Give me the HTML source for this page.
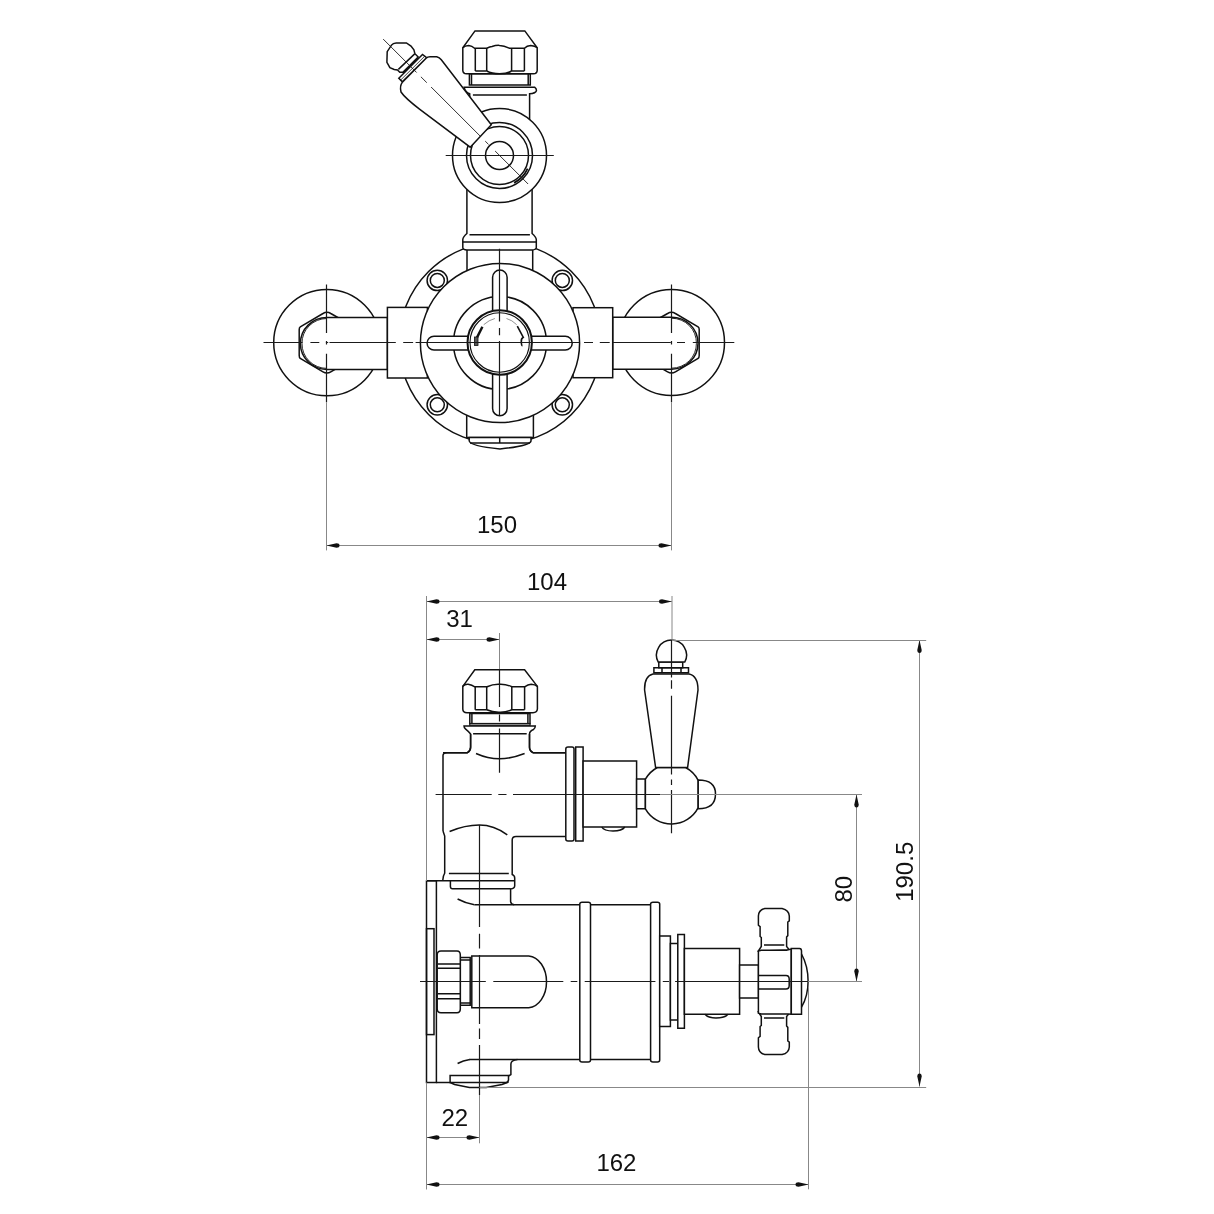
<!DOCTYPE html>
<html><head><meta charset="utf-8"><style>
html,body{margin:0;padding:0;background:#fff;}
svg{display:block;will-change:transform;}
text{font-family:"Liberation Sans",sans-serif;font-size:24px;fill:#111;}
.o{fill:#fff;stroke:#111;stroke-width:1.5;}
.n{fill:none;stroke:#111;stroke-width:1.5;}
.c{fill:none;stroke:#1a1a1a;stroke-width:1.2;}
.cd{fill:none;stroke:#222;stroke-width:1;stroke-dasharray:22 5 4 5;}
.d{fill:none;stroke:#888;stroke-width:1;}
.a{fill:#111;stroke:none;}
</style></head><body>
<svg width="1214" height="1214" viewBox="0 0 1214 1214">
<rect width="1214" height="1214" fill="#fff"/>
<!-- ================= TOP VIEW ================= -->
<g id="top">
  <!-- flange -->
  <circle class="o" cx="500" cy="343" r="101"/>
  <!-- top bottom outlet -->
  <path class="o" d="M466.7 400 V437.4 H533.4 V400 Z"/>
  <path class="o" d="M469.2 437.4 V441 Q470 446 500 449 Q530 446 531 441 V437.4 Z"/>
  <line class="n" x1="499.7" y1="437.4" x2="499.7" y2="443"/>
  <line class="n" x1="470" y1="443" x2="530" y2="443"/>
  <!-- upper pipe from pivot to body -->
  <path class="o" d="M467 248.7 V300 H532.7 V248.7 Z"/>
  <!-- bolt holes -->
  <g>
    <circle class="o" cx="437.3" cy="280.4" r="10.2"/><circle class="n" cx="437.3" cy="280.4" r="7"/>
    <circle class="o" cx="562.3" cy="280.4" r="10.2"/><circle class="n" cx="562.3" cy="280.4" r="7"/>
    <circle class="o" cx="437.3" cy="404.8" r="10.2"/><circle class="n" cx="437.3" cy="404.8" r="7"/>
    <circle class="o" cx="562.3" cy="404.8" r="10.2"/><circle class="n" cx="562.3" cy="404.8" r="7"/>
  </g>
  <!-- inlet escutcheons -->
  <circle class="o" cx="326.9" cy="342.6" r="53.2"/>
  <circle class="o" cx="671.5" cy="342.5" r="53"/>
  <!-- left hex + pipe -->
  <path class="o" d="M323 313.5 Q326.9 311 330.8 313.5 L351 325 V360 L330.8 371.8 Q326.9 374.2 323 371.8 L300.3 358.5 Q299.2 357.5 299.2 355.5 V329.5 Q299.2 327.5 300.3 326.8 Z"/>
  <path class="o" d="M387.4 317.5 H326.9 A26.5 26 0 0 0 300.4 343.5 A26.5 26 0 0 0 326.9 369.4 H387.4 Z"/>
  <path class="n" d="M326.9 318.5 A25 24.5 0 0 0 302 343.5 A25 24.5 0 0 0 326.9 368.4" style="stroke-width:0.9"/>
  <!-- right hex + pipe -->
  <path class="o" d="M675.4 313.5 Q671.5 311 667.6 313.5 L647.3 325 V360 L667.6 371.8 Q671.5 374.2 675.4 371.8 L698.1 358.5 Q699.2 357.5 699.2 355.5 V329.5 Q699.2 327.5 698.1 326.8 Z"/>
  <path class="o" d="M612.7 317.2 H671.5 A26.5 26 0 0 1 698 343.2 A26.5 26 0 0 1 671.5 369.2 H612.7 Z"/>
  <path class="n" d="M671.5 318.2 A25 24.5 0 0 1 696.4 343.2 A25 24.5 0 0 1 671.5 368.2" style="stroke-width:0.9"/>
  <!-- union rects -->
  <rect class="o" x="387.4" y="307.4" width="40" height="70.6"/>
  <rect class="o" x="573" y="307.7" width="39.7" height="70"/>
  <!-- body circle -->
  <circle class="o" cx="500" cy="343" r="79.6"/>
  <circle class="n" cx="500" cy="343" r="46.5"/>
  <!-- cross arms -->
  <path class="o" d="M492.6 340 V277.3 A7.25 7.25 0 0 1 507.1 277.3 V340 Z"/>
  <path class="o" d="M492.6 346 V408.5 A7.25 7.25 0 0 0 507.1 408.5 V346 Z"/>
  <path class="o" d="M497 336.3 H434 A6.9 6.9 0 0 0 434 350.1 H497 Z"/>
  <path class="o" d="M503 336.3 H565.3 A6.9 6.9 0 0 1 565.3 350.1 H503 Z"/>
  <!-- spindle -->
  <circle class="o" cx="499.7" cy="342.5" r="32.2" style="stroke-width:2"/>
  <circle class="n" cx="499.7" cy="342.5" r="29.7" style="stroke-width:1.1"/>
  <path class="n" d="M482.4 326.7 L475.8 339.9" style="stroke-width:2.4"/>
  <rect x="474.4" y="337" width="3.6" height="8.5" fill="#555" stroke="#111" stroke-width="0.8"/>
  <path class="n" d="M517.3 326.1 L523.3 337.3 Q521 338.5 521.3 342 Q521.5 345.8 522.5 345.8" style="stroke-width:1.6"/>
  <path class="n" d="M483.7 324.7 Q489 320 494.9 318.5 M506.5 318.5 Q512 320 516.7 324.7" style="stroke-width:0.8;stroke:#777"/>

  <!-- upper body above pivot -->
  <path class="o" d="M466.9 170 V233.5 Q463 237 462.8 239.5 V247.5 Q463 249.9 466.9 249.9 H532.1 Q536 249.9 536.3 247.5 V239.5 Q536 237 532.1 233.5 V170 Z"/>
  <line class="n" x1="462.8" y1="242.1" x2="536.3" y2="242.1"/>
  <line class="n" x1="469.5" y1="234.7" x2="529.9" y2="234.7"/>
  <path class="o" d="M469.7 125 V93.8 Q465 92 464.2 87.3 H534.8 Q536.6 88.5 536.4 90.7 Q535.8 93.2 529.6 93.8 V125 Z"/>
  <!-- pivot circles -->
  <circle class="o" cx="499.5" cy="155.5" r="47"/>
  <circle class="n" cx="499.5" cy="155.5" r="33"/>
  <circle class="n" cx="499.5" cy="155.5" r="29"/>
  <circle class="n" cx="499.5" cy="155.5" r="14"/>
  <path class="n" d="M527.6 168.6 A31 31 0 0 1 514.1 182.9" style="stroke-width:1.8"/>

  <!-- nut top -->
  <line class="n" x1="472.9" y1="94.9" x2="526.9" y2="94.9"/>
  <path class="o" d="M469.4 73.8 V85 H530.3 V73.8 Z"/>
  <path class="n" d="M471.5 73.8 V85 M528.2 73.8 V85"/>
  <path class="o" d="M475 30.9 H524.8 L537.2 47.8 V70.5 Q537 73.6 533.5 73.8 H466.5 Q463 73.6 462.8 70.5 V47.8 Z"/>
  <path class="n" d="M462.8 47.8 Q465 45.4 468.7 45.4 Q472 45.8 474.6 48.2 H486.7 Q490 46.8 492 46.5 Q496 45.2 499.5 45.4 Q504 45.5 509.2 48.2 H524.4 Q527 45.6 530.7 45.4 Q535 45.8 537.2 47.8"/>
  <path class="n" d="M475.3 48.2 V71 M486.7 48.2 V71 M511.6 48.2 V71 M524.4 48.2 V71 M475.3 71 H486.7 M511.6 71 H524.4"/>
  <path class="n" d="M486.7 71 Q492 73.8 499.5 73.8 Q507 73.8 511.6 71"/>

  <!-- handle -->
  <path class="o" d="M391.5 45.2 Q393 43 396.1 42.9 H406.4 L411 46.1 L413.9 49.8 L414.9 53.7 L418.2 57 L403 72.2 L399.8 72.2 L397.5 69.9 L394.2 69.5 L389.9 67.6 L386.9 62.3 L387.2 51.7 Z"/>
  <line class="n" x1="398.4" y1="69.4" x2="414.7" y2="53.9"/>
  <path class="o" d="M398.8 78.3 L422.5 54.4 L426.9 57.9 L402.4 81.9 Z"/>
  <line class="n" x1="400.6" y1="80.1" x2="424.7" y2="56.2" style="stroke-width:0.8"/>
  <line class="n" x1="402.9" y1="73" x2="418" y2="57.9" style="stroke-width:1.8"/>
  <path class="o" d="M402.4 82.1 L426.1 58.3 Q427.5 56.8 430 56.8 L436.7 56.7 Q439.5 57.5 441.3 59.7 L491.3 124.8 L470.2 147.2 L419.5 109.1 Q405 98 401 92 Q399.5 86 402.4 82.1 Z"/>
  <!-- handle axis -->
  <path class="c" d="M383.2 39.1 L416.6 72.5 M420.9 76.8 L426.8 82.7 M431.1 87.0 L480.6 136.5 M485.2 141.1 L488.5 144.4 M495.1 151.0 L528.1 184.0" style="stroke-width:0.9"/>

  <!-- centerlines -->
  <path class="c" d="M445.7 155.5 H553.8"/>
  <path class="c" d="M263.5 342.5 H302.5 M310.4 342.5 H319.3 M325.9 342.5 H328.2 M329.5 342.5 H395.8 M403.2 342.5 H413.1 M415.6 342.5 H579 M584 342.5 H593 M599.8 342.5 H609.7 M612.7 342.5 H670.8 M677 342.5 H685 M692.8 342.5 H734.3"/>
  <path class="c" d="M499.5 248.7 V321.5 M499.5 328 V335.3 M499.5 341 V416"/>
  <path class="c" d="M326.5 284.6 V333 M326.5 341 V344.5 M326.5 353.8 V402.2"/>
  <path class="c" d="M671.5 284.6 V333 M671.5 341 V344.5 M671.5 353.8 V402.2"/>
</g>
<!-- ================= SIDE VIEW ================= -->
<g id="side">
  <!-- ===== upper: nut + neck ===== -->
  <path class="o" d="M474.8 669.7 H524.6 L537.4 686.4 V709 Q537 712.7 533 712.7 H467 Q462.8 712.7 462.8 709 V686.4 Z"/>
  <path class="n" d="M462.6 686.4 Q465 684 468.2 684.3 Q472 685 474.8 686.8 H487.1 Q493 684 499.5 684.3 Q506 684 511.8 686.8 H524.6 Q528 684.5 531.2 684.3 Q535 684.5 537.4 686.4"/>
  <path class="n" d="M475.2 686.8 V709.8 M486.7 686.8 V709.8 M511.8 686.8 V709.8 M524.6 686.8 V709.8"/>
  <path class="n" d="M475.2 709.8 H486.7 Q493 712.5 499.5 712.3 Q506 712.5 511.8 709.8 H524.6"/>
  <path class="o" d="M469.8 713.5 V723.8 H530 V713.5 Z"/>
  <path class="n" d="M471.9 713.5 V723.8 M527.9 713.5 V723.8"/>
  <rect x="469.8" y="723.4" width="60.2" height="2.5" fill="#888" stroke="#111" stroke-width="1"/>
  <path class="o" d="M443 752.7 H467.4 Q470.6 751 470.6 747.3 V734.1 Q468 731 465.7 729.2 Q464 727.5 464 725.9 H535.3 Q535.3 728 533.5 729.5 Q529.5 731 529.5 734.1 V747.3 Q529.5 751 533 752.7 H565.8"/>
  <line class="n" x1="473.1" y1="733.7" x2="526.7" y2="733.7"/>

  <!-- ===== upper body box ===== -->
  <path class="n" d="M443 831 V755.5 Q443 752.7 447 752.7 H467.4 Q470.6 751 470.6 747.3 V734.1 M529.5 734.1 V747.3 Q529.5 751 533 752.7 H566"/>
  <path class="n" d="M566 836.5 H516 Q512.2 836.5 512.2 840 V874.5 Q514.7 875.5 514.7 878 V886 Q514.5 888.5 510.6 889 V901.7 Q511 904.4 514.2 904.7"/>
  <path class="n" d="M443 831 L444.7 836 V873.1 Q443 875.5 442.7 880.8"/>
  <path class="n" d="M476 753.5 Q488 758.8 499.5 758.8 Q511 758.8 524.6 753.5"/>
  <path class="n" d="M449.6 831.5 Q465 825 479.3 825 Q494 825 507.3 834.8"/>
  <!-- lower neck collar -->
  <line class="n" x1="448.9" y1="873.6" x2="508.8" y2="873.6"/>
  <path class="n" d="M450.4 880.8 V886.5 Q450.5 888.8 452.5 888.8 H510.6"/>
  <line class="n" x1="426.5" y1="880.8" x2="514.7" y2="880.8"/>
  <path class="n" d="M457.6 899 Q466 903.5 474.4 904.7"/>

  <!-- upper rings + spindle -->
  <path class="o" d="M565.8 749 Q565.8 747 568 747 H572 Q574 747 574 749 V839 Q574 841 572 841 H568 Q565.8 841 565.8 839 Z"/>
  <path class="o" d="M575.7 747 H583.1 V841 H575.7 Z"/>
  <path class="o" d="M583.1 761 H636.6 V827 H583.1 Z"/>
  <path class="n" d="M601.8 827 Q604 831 613 831 Q622 831 624.8 827"/>
  <path class="o" d="M636.6 779 H645.4 V808.8 H636.6 Z"/>
  <!-- hub ball -->
  <path class="o" d="M657.4 767.5 A30 30 0 0 0 645.4 779.2 V808.8 A30 30 0 0 0 698.2 807.7 V780.3 A30 30 0 0 0 685.6 767.5 Z"/>
  <path class="o" d="M698.2 780 Q715.5 780 715.5 794 Q715.5 808.8 698.2 808.8 Z"/>
  <!-- lever handle -->
  <path class="o" d="M655.6 767.5 L644.6 690 Q644.3 676 653 674.1 H689 Q698 676 698 690 L687.6 767.5 Z"/>
  <path class="o" d="M653.9 667.8 H688.5 V672.7 H653.9 Z"/>
  <path class="n" d="M662 667.8 V672.7 M681 667.8 V672.7"/>
  <path class="o" d="M658.8 662 H682.7 V667.8 H658.8 Z"/>
  <path class="o" d="M658.2 662 A15 15 0 1 1 684.8 662 Z"/>

  <!-- ===== lower body ===== -->
  <path class="n" d="M474.4 904.7 H651 M469.4 1059.5 H651"/>
  <path class="n" d="M457.6 1063.5 Q463 1060.5 469.9 1059.6"/>
  <path class="o" d="M579.8 904 Q579.8 902.2 582 902.2 H588.3 Q590.5 902.2 590.5 904 V1060 Q590.5 1062 588.3 1062 H582 Q579.8 1062 579.8 1060 Z"/>
  <path class="o" d="M650.6 904 Q650.6 902.2 653 902.2 H657.5 Q659.7 902.2 659.7 904 V1060 Q659.7 1062 657.5 1062 H653 Q650.6 1062 650.6 1060 Z"/>
  <path class="o" d="M659.7 936 H670.4 V1026.6 H659.7 Z"/>
  <path class="o" d="M670.4 943.4 H677.8 V1020 H670.4 Z"/>
  <path class="o" d="M677.8 934.4 H684.4 V1028.3 H677.8 Z"/>
  <path class="o" d="M684.4 948.4 H739.6 V1014.3 H684.4 Z"/>
  <path class="n" d="M705 1014.3 Q708 1018 716 1018 Q725 1018 728 1014.3"/>
  <path class="o" d="M739.6 965 H758.5 V998 H739.6 Z"/>
  <!-- cross handle -->
  <path class="o" d="M758.4 951 L761.3 946.5 V937.5 L760.1 936.5 V926.7 L758.4 925.2 V916 Q758.6 910 764.8 908.4 H782.1 Q789 910 789.3 916 V920.8 L787.8 922 V935.6 L786.6 937 V946.4 L789.5 950 Z"/>
  <path class="o" d="M758.4 1012 L761.3 1016.5 V1025.5 L760.1 1026.5 V1036.3 L758.4 1037.8 V1047 Q758.6 1053 764.8 1054.6 H782.1 Q789 1053 789.3 1047 V1042.2 L787.8 1041 V1027.4 L786.6 1026 V1016.6 L789.5 1013 Z"/>
  <path class="n" d="M764 944.9 H784.3 M764 1018.1 H784.3"/>
  <path class="o" d="M758.4 951 L761.2 950.2 H786.4 L791.3 949.1 V1014.2 L788.2 1013.9 H761.2 L758.4 1013.2 Z"/>
  <path class="n" d="M758.4 975.4 H786 Q789.2 975.4 789.2 979 V985.5 Q789.2 989 786 989 H758.4"/>
  <path class="o" d="M791.3 948.4 H799.5 Q801.5 948.4 801.5 951 V1014.2 H791.3 Z"/>
  <path class="n" d="M801.5 954 Q808.1 966 808.1 981.3 Q808.1 996 801.5 1007.2"/>
  <!-- plate -->
  <rect class="o" x="426.5" y="881" width="9.9" height="201.5"/>
  <rect class="n" x="426.5" y="928.7" width="7.5" height="105.9"/>
  <!-- small nut + stub -->
  <path class="o" d="M471.8 955.9 H528.7 A19 26 0 0 1 528.7 1007.8 H471.8 Z"/>
  <path class="o" d="M460.3 957.6 H470.2 V1005.3 H460.3 Z"/>
  <path class="n" d="M460.3 960 H470.2 M460.3 1003 H470.2"/>
  <path class="o" d="M441 951 H457 Q460.3 951 460.3 955 V1009 Q460.3 1012.7 457 1012.7 H441 Q437.2 1012.7 437.2 1009 V955 Q437.2 951 441 951 Z"/>
  <path class="n" d="M438 964 H460 M438 968.3 H460 M438 993.8 H460 M438 998.7 H460"/>

  <!-- side bottom outlet -->
  <path class="n" d="M517.4 1059.6 Q511 1060.5 510.9 1064 V1074.6 L508.5 1076"/>
  <path class="o" d="M450.1 1075.6 H508.5 V1080 Q508 1082.5 506 1082.5 H450.1 Z"/>
  <path class="n" d="M436.3 1082.5 H450.1"/>
  <path class="n" d="M450.1 1082.5 L454.6 1084.5 L469.4 1087.4 H486.2 L502 1084.5 L508.5 1082"/>

  <!-- centerlines side -->
  <path class="c" d="M499.5 669 V707 M499.5 714.5 V721.5 M499.5 728.5 V772.7"/>
  <path class="c" d="M435.6 794.5 H491.7 M498.3 794.5 H506.5 M513 794.5 H660"/>
  <path class="c" d="M671.5 640 V677.6 M671.5 680.2 V688.8 M671.5 695.7 V774.5 M671.5 779.5 V785 M671.5 790 V833.3"/>
  <path class="c" d="M479.5 825 V927 M479.5 933.7 V948.5 M479.5 955 V1024 M479.5 1028.4 V1038.9 M479.5 1045 V1095"/>
  <path class="c" d="M420 981.5 H485.8 M493.3 981.5 H563.3 M570.7 981.5 H577.3 M584.7 981.5 H655.4 M662.8 981.5 H669 M675.1 981.5 H808"/>
</g>
<!-- ================= DIMENSIONS ================= -->
<g id="dims">
<path class="d" d="M326.5 545.5 H671.5"/>
<path class="a" d="M326.5 545.5 L336.5 543.3 Q339.5 543.3 339.5 545.5 Q339.5 547.7 336.5 547.7 Z"/>
<path class="a" d="M671.5 545.5 L661.5 543.3 Q658.5 543.3 658.5 545.5 Q658.5 547.7 661.5 547.7 Z"/>
<text x="497" y="532.6" text-anchor="middle">150</text>
<path class="d" d="M426.5 601.5 H672"/>
<path class="a" d="M426.5 601.5 L436.5 599.3 Q439.5 599.3 439.5 601.5 Q439.5 603.7 436.5 603.7 Z"/>
<path class="a" d="M672 601.5 L662 599.3 Q659 599.3 659 601.5 Q659 603.7 662 603.7 Z"/>
<text x="547" y="589.7" text-anchor="middle">104</text>
<path class="d" d="M426.5 639.5 H499.5"/>
<path class="a" d="M426.5 639.5 L436.5 637.3 Q439.5 637.3 439.5 639.5 Q439.5 641.7 436.5 641.7 Z"/>
<path class="a" d="M499.5 639.5 L489.5 637.3 Q486.5 637.3 486.5 639.5 Q486.5 641.7 489.5 641.7 Z"/>
<text x="459.5" y="627.2" text-anchor="middle">31</text>
<path class="d" d="M426.5 1137.5 H479.5"/>
<path class="a" d="M426.5 1137.5 L436.5 1135.3 Q439.5 1135.3 439.5 1137.5 Q439.5 1139.7 436.5 1139.7 Z"/>
<path class="a" d="M479.5 1137.5 L469.5 1135.3 Q466.5 1135.3 466.5 1137.5 Q466.5 1139.7 469.5 1139.7 Z"/>
<text x="454.8" y="1126" text-anchor="middle">22</text>
<path class="d" d="M426.5 1184.5 H808.5"/>
<path class="a" d="M426.5 1184.5 L436.5 1182.3 Q439.5 1182.3 439.5 1184.5 Q439.5 1186.7 436.5 1186.7 Z"/>
<path class="a" d="M808.5 1184.5 L798.5 1182.3 Q795.5 1182.3 795.5 1184.5 Q795.5 1186.7 798.5 1186.7 Z"/>
<text x="616.4" y="1170.8" text-anchor="middle">162</text>
<path class="d" d="M856.5 794.5 V981.5"/>
<path class="a" d="M856.5 794.5 L854.3 804.5 Q854.3 807.5 856.5 807.5 Q858.7 807.5 858.7 804.5 Z"/>
<path class="a" d="M856.5 981.5 L854.3 971.5 Q854.3 968.5 856.5 968.5 Q858.7 968.5 858.7 971.5 Z"/>
<text transform="translate(851.6 889.2) rotate(-90)" text-anchor="middle">80</text>
<path class="d" d="M919.5 640 V1086.5"/>
<path class="a" d="M919.5 640 L917.3 650 Q917.3 653 919.5 653 Q921.7 653 921.7 650 Z"/>
<path class="a" d="M919.5 1086.5 L917.3 1076.5 Q917.3 1073.5 919.5 1073.5 Q921.7 1073.5 921.7 1076.5 Z"/>
<text transform="translate(913 871.8) rotate(-90)" text-anchor="middle">190.5</text>
<path class="d" d="M326.5 402.2 V550.4 M671.5 402.2 V550.4 M426.5 596 V881 M426.5 1082.5 V1189.5 M672 596 V640 M499.5 633 V669 M672 640.5 H926.2 M660 794.5 H862 M808 981.5 H862 M479.5 1087.5 H926.2 M479.5 1095 V1143.3 M808.5 988 V1189.3"/>
</g>
</svg>
</body></html>
